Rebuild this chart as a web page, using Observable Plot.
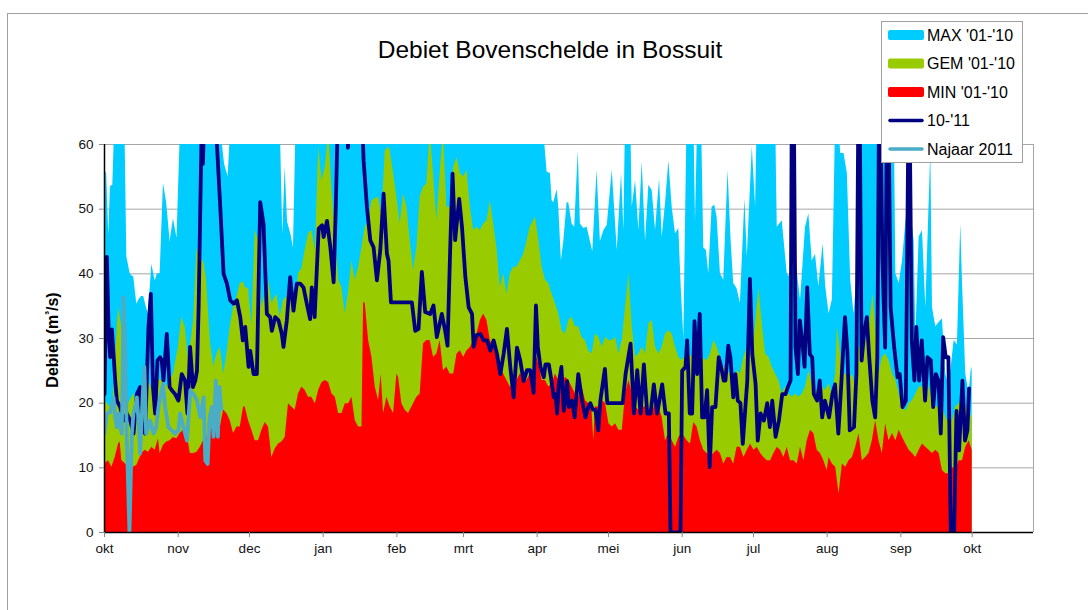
<!DOCTYPE html>
<html>
<head>
<meta charset="utf-8">
<script src="https://cdn.jsdelivr.net/npm/d3@7"></script>
<script src="https://cdn.jsdelivr.net/npm/@observablehq/plot@0.6"></script>
<style>
  html, body { margin: 0; padding: 0; background: #fff; overflow: hidden; }
  #chart { position: relative; width: 1088px; height: 610px; }
  #chart svg { display: block; }
</style>
</head>
<body>
<div id="chart"></div>
<script>
// ---- Data (day offset from 1 Oct, value in m3/s) ----
const monthLabels = ["okt","nov","dec","jan","feb","mrt","apr","mei","jun","jul","aug","sep","okt"];
const yTicks = [0, 10, 20, 30, 40, 50, 60];
const seriesNames = ["MAX '01-'10", "GEM '01-'10", "MIN '01-'10", "10-'11", "Najaar 2011"];

const maxData = [[0,56],[0.9,55.5],[1.8,46],[2.5,53.5],[3.5,53.7],[4.2,62],[4.5,65],[8.5,65],[9.4,42.6],[10.8,40],[11.5,39.7],[12.3,39.5],[13.6,35.3],[14.5,36],[15.5,36.5],[16.5,36.5],[17.5,35],[18.5,33.8],[19.9,41.5],[21.3,38.9],[22.3,40],[23.4,40],[24.8,54],[26.2,50.8],[27.6,45],[29,48.5],[30.5,45.5],[31.9,62],[32.5,65],[47.5,65],[49,62],[50.5,57],[52,55],[53,62],[53.5,65],[73.3,65],[74,62],[75,46],[76,56.5],[77,48],[78.5,46],[79.5,44],[80.5,62],[81,65],[184.5,65],[184.8,62],[186.2,55.7],[187.6,55.5],[188.3,51.3],[189,51],[190.4,53],[191.1,50.3],[192.2,42],[193.2,45],[194.6,51],[195.3,51],[196.7,47.7],[197.8,47.2],[199.3,59],[200.2,47.7],[201.6,47],[203,47.2],[204.4,45],[205.4,43.4],[207.2,56],[208.6,45],[210.1,46.7],[211.5,47.5],[213.6,56],[215.7,43.6],[217.5,55.5],[218.5,46.7],[219.2,65],[221.3,65],[222,50.3],[223.4,54.4],[224.8,46.7],[226.2,57.3],[227.6,45],[229,53.7],[230.4,52.9],[231.8,46.7],[233.5,54.7],[234.6,45.7],[236,50.8],[237.4,57.5],[238.8,50.3],[240.2,46.2],[241.6,47],[242.6,38],[243.7,30],[245.1,65],[247.9,65],[248.6,48],[249.6,65],[251.1,65],[252.1,44],[253.2,43.6],[254.2,40],[255.6,50.3],[256.7,50.6],[257.7,48.8],[259.1,40],[260.5,39],[262.3,56],[263.6,45],[264.7,38.5],[266.1,37.7],[267.5,35.4],[269.4,51.6],[270.4,42.6],[272.5,59.6],[273.9,50.3],[274.6,65],[282.3,65],[283,47.2],[285.1,48.2],[287.2,40],[289.3,39],[290.7,42.6],[292.8,35.9],[294.9,47.2],[296.3,49.3],[297.7,42],[299.1,43],[300.5,38],[302.3,44.6],[303.4,38],[304.8,33.8],[306.2,36],[307.6,65],[308.5,65],[309.7,58.6],[311.1,58.6],[312.5,55.5],[313.9,39],[315.3,33.8],[316.7,40],[317.4,65],[332.2,65],[332.9,40],[334.3,38.5],[335.7,42],[337.1,48],[338.5,52],[340.6,45],[341.3,30.2],[342.7,45.7],[344.1,46.7],[345.5,34.8],[347.6,59],[348.3,34.8],[349.7,31.8],[351.8,32.8],[352.5,33],[353.9,24.5],[355.3,22.5],[357.4,29.7],[358.8,29],[360.2,47.7],[360.9,39],[362.3,24.5],[363.7,21.4],[364.7,25.6],[365,25]];

const gemData = [[0,20.4],[2.4,19.4],[3.8,21.4],[5.9,34.8],[7.3,31.7],[8,20.4],[9.4,19.4],[10.8,20.4],[12.2,21.4],[13.6,19.9],[15,21.4],[16.4,23],[18.5,23.5],[20.6,21.4],[22,24.5],[23.4,23.5],[24.8,23.5],[26.2,22.5],[27.6,23.5],[29,24.5],[31.1,28.7],[32.5,33.3],[33.9,31.8],[35.4,26.6],[37.5,32.8],[38.9,44],[40.3,42],[41.7,42],[42.8,39.5],[44.5,29.7],[45.9,25.6],[47.3,27.6],[48.7,28.7],[50.1,24.5],[51.5,27.6],[52.9,31.8],[54.3,34.8],[55.7,36.4],[57.1,38.5],[58.5,38.7],[59.2,37.9],[60.6,37.7],[62,31.8],[63.4,46.7],[64.8,45.2],[66.2,34.8],[67.6,36.9],[69,39],[70.4,35.4],[72.5,36.9],[73.9,33.3],[75.3,35.9],[76.7,36.4],[78.8,36],[80.2,33.8],[81.6,40],[83,40.8],[84.4,43.6],[85.8,46.2],[87.2,46.7],[88.7,43.6],[90.1,59.6],[91.5,54.4],[92.9,56.5],[94.3,62],[95.7,52.9],[97.1,46.2],[98.5,39],[99.9,37.9],[101.3,33.8],[102.7,37.4],[104.1,42],[105.5,39],[106.9,41],[108.3,44],[109.7,47.2],[111.1,48.2],[112.5,51.3],[113.9,51.6],[115.3,51.9],[116.7,48.8],[118.1,59],[119.5,59.6],[120.2,59],[121.6,55.5],[123,51.9],[124.4,47.7],[125.8,52.4],[127.2,50.3],[128.6,45.2],[130,40.5],[131.4,44],[132.8,51.9],[134.2,53.4],[135.6,53.9],[137,62],[138.4,55.5],[139.8,48.2],[141.2,55.5],[142.6,62],[144,50.3],[145.4,50.3],[146.9,56.5],[148.3,58],[149.7,55.5],[151.1,55],[152.5,56],[153.9,50.3],[155.3,46.7],[156.7,47.2],[158.1,46.7],[159.5,47.7],[160.9,48.2],[162.3,51.3],[163.7,47.7],[165.1,44],[166.5,37.9],[167.9,40],[169.3,36.9],[170.7,40],[172.1,41],[173.5,41],[174.9,42],[176.3,43],[177.7,45],[179.1,47.2],[180.5,48.2],[181.3,48.8],[182.7,45.2],[184.1,41],[185.5,39],[186.9,38.5],[188.3,36.9],[189.7,35.4],[191.1,33.8],[192.5,31.2],[193.9,30.7],[195.3,32.8],[196.7,33.3],[198.1,31.8],[199.5,31.8],[200.9,30.2],[202.3,29.7],[203.7,28.1],[205.1,27.6],[206.5,30.7],[207.9,30.2],[209.4,28.7],[210.8,30.2],[212.2,29.7],[213.6,29.7],[215,30.2],[216.4,27.6],[217.8,29.7],[219.2,34.8],[220.6,40],[222,31.8],[223.4,27.1],[224.8,27.6],[226.2,28.7],[227.6,27.6],[229,32.3],[230.4,32.8],[231.8,28.7],[233.2,27.6],[234.6,28.7],[236,30.7],[237.4,31.2],[238.8,30.7],[240.2,28.7],[241.6,27.1],[243,26.6],[245.1,27.6],[247.9,27.1],[250.7,27.1],[253.5,26.6],[254.9,27.6],[256.3,29.7],[257.7,28.7],[259.1,27.1],[260.5,25.6],[263.3,24.5],[264.7,23.5],[266.1,25],[267.5,24.5],[269,27.1],[270.4,28.7],[271.8,27.6],[273.2,29.7],[275.3,37.7],[276.7,32.3],[278.1,27.6],[279.5,27.1],[280.9,25.6],[282.3,24.5],[283.7,23.5],[285.1,21.4],[286.5,22.5],[287.9,21.4],[289.3,20.9],[290.7,21.4],[292.1,20.9],[293.5,21.4],[294.9,22.5],[296.3,25],[297.7,23],[299.1,21.4],[300.5,22.5],[301.9,22.5],[303.3,22],[304.8,23],[306.2,21.4],[307.6,24.5],[308.3,31.8],[309,29.7],[310.4,24.5],[311.8,24.5],[313.2,23.5],[314.6,24.5],[316,22.5],[317.4,28.7],[318.8,28.7],[320.2,29.7],[321.6,31.2],[323.3,36.9],[324.4,31.8],[325.8,24.5],[327.2,27.1],[328.6,27.6],[330,26.6],[331.5,24.5],[332.9,23.5],[334.3,21.4],[335.7,19.4],[337.1,18.8],[338.5,19.9],[339.9,20.4],[341.3,21.4],[342.7,22.5],[344.1,22.5],[345.5,24.5],[346.9,22.5],[348.3,20.4],[349.7,19.4],[351.1,19.4],[352.5,19.4],[353.9,17.8],[355.3,16.8],[356.7,17.3],[358.1,19.4],[359.5,19.9],[360.9,20.4],[362.3,19.4],[363.7,18.8],[365,17.8]];

const minData = [[0,10.6],[1.7,11.1],[3.1,10.1],[4.5,11.6],[5.9,13.7],[6.6,14],[7.3,11.1],[8,10.9],[9.4,10.4],[12.2,10.1],[13.6,10.4],[15,11.6],[15.7,12.2],[17.1,12.7],[18.5,12.4],[19.9,13.2],[21.3,12.7],[22.7,14.5],[23.4,12.2],[24.8,13.5],[26.2,14],[27.6,14.2],[29,14.7],[30.4,14.5],[31.8,15.3],[33.2,15.8],[34.7,15.3],[36.1,12.2],[37.5,12.2],[38.9,12.4],[40.3,13.2],[41.7,14.2],[43.1,14.7],[44.5,15.8],[45.9,16.3],[47.3,15.8],[48.7,16.3],[50.1,18.9],[51.5,18.4],[52.9,17.3],[54.3,15.3],[55.7,16.3],[57.1,16.3],[58.5,19.4],[59.2,19.4],[60.6,17.3],[62,15.8],[63.4,14.2],[64.8,14.2],[66.2,15.8],[67.6,17],[69,16.3],[70.4,11.6],[71.8,12.9],[73.2,13.7],[74.6,14],[76,14.7],[77.4,19.9],[78.8,19.4],[80.2,18.9],[81.6,21.4],[83,22.5],[84.4,22],[85.8,20.9],[87.2,20.9],[88.7,19.9],[90.1,22],[91.5,23.2],[92.9,23.5],[94.3,23.2],[95.7,21.4],[97.1,20.9],[98.5,18.4],[99.9,18.4],[101.3,19.9],[102.7,19.9],[104.1,20.9],[105.5,17.3],[106.9,16.3],[108.3,16.3],[109,35.6],[109.7,35.4],[111.1,29.7],[112.5,27.1],[113.9,22.5],[115.3,20.4],[116.4,24.5],[117.4,18.4],[118.8,20.9],[120.2,19.4],[121.6,18.4],[123,24.5],[123.7,24],[125.1,19.9],[126.5,18.9],[127.9,18.4],[130,19.9],[131.4,20.9],[132.8,21.4],[134.2,29.2],[135.6,29.7],[137,29.7],[138.4,27.1],[139.8,27.6],[141.2,29.7],[142.6,25],[144,25.6],[145.4,24.5],[146.9,24.5],[148.3,27.6],[149.7,28.1],[151.1,27.1],[152.5,28.1],[153.9,28.6],[155.3,29.7],[156.7,30.7],[158.1,32.8],[159.5,33.8],[160.9,32.8],[162.3,29.7],[163.7,28.6],[165.1,27.1],[166.5,25.6],[167.9,24.5],[169.3,23.5],[170.7,22.5],[172.1,22.5],[173.5,23.5],[174.9,24.5],[176.3,24],[177.7,23.5],[179.1,24.5],[180.5,24.5],[181.9,27.1],[183.3,25],[184.1,23.5],[185.5,23.5],[186.9,22.5],[188.3,23],[189.7,24.5],[191.1,23.5],[192.5,22.5],[193.9,24],[195.3,23.5],[196.7,22.5],[198.1,21.4],[199.5,20.9],[200.9,22.5],[202.3,20.4],[203.7,19.9],[205.1,18.8],[205.8,14.2],[206.5,19.4],[207.9,19.4],[209.4,20.4],[210.8,19.9],[212.2,16.8],[213.6,16.3],[215,16.8],[216.4,15.8],[217.8,15.8],[219.2,21.4],[220.6,23.5],[222,21.4],[223.4,19.4],[224.8,18.9],[226.2,19.4],[227.6,19.4],[229,18.4],[230.4,18.4],[231.8,19.9],[233.2,19.4],[234.6,17.8],[236,14.2],[237.4,15.3],[238.8,14.2],[240.2,13.2],[241.6,14.7],[243,15.3],[245.1,14.2],[246.5,13.7],[247.9,17],[249.3,16.3],[250.7,14.2],[252.1,12.7],[253.5,12.2],[254.9,11.6],[256.3,12.2],[257.7,12.7],[259.1,12.2],[260.5,10.6],[261.9,11.6],[263.3,11.6],[264.7,10.6],[266.1,13.2],[267.5,13.2],[269,11.6],[270.4,12.7],[271.8,13.7],[273.2,12.7],[274.6,13.2],[276,12.2],[277.4,11.6],[278.8,11.1],[280.2,11.1],[281.6,12.2],[283,13.2],[284.4,12.7],[285.8,11.6],[287.2,13.2],[288.6,11.1],[290,11.1],[291.4,10.6],[292.8,13.2],[294.2,11.1],[295.6,14.2],[297,15.8],[298.4,15.3],[299.8,12.7],[301.2,12.2],[302.6,11.1],[304,9.6],[304.8,11.6],[306.2,10.6],[307.6,10.1],[309,6],[310.4,10.6],[311.8,10.1],[313.2,11.1],[314.6,11.6],[316,13.2],[317.4,15.3],[318.8,11.1],[320.2,11.6],[321.6,12.2],[323,14.2],[324.4,17.3],[325.8,14.2],[327.2,12.2],[328.6,16.8],[330,14.2],[331.5,15.3],[332.9,14.2],[334.3,15.8],[335.7,14.7],[337.1,13.7],[338.5,12.7],[339.9,12.2],[341.3,11.6],[342.7,12.7],[344.1,13.7],[345.5,13.2],[346.9,12.7],[348.3,12.2],[349.7,12.7],[351.1,12.2],[352.5,9.6],[353.9,9.1],[355.3,9.1],[356.7,10.1],[358.1,9.6],[359.5,11.1],[360.9,11.1],[362.3,13.2],[363.7,14.2],[365,12.7]];

const flow1011 = [[0,21.4],[1,42.6],[1.7,31.8],[2.4,27.1],[3.1,31.4],[3.8,27.6],[4.5,23.5],[5.2,20.4],[6.6,19.4],[8,17.3],[9.4,18.4],[10.8,17.3],[12.2,15.3],[13.6,21.4],[15,22.5],[15.7,16.3],[17.1,15.3],[18.5,31.8],[19.5,36.9],[20.4,22.5],[21.3,18.4],[22.3,26.6],[23.4,27.1],[24.1,26.6],[24.8,23.5],[26.2,30.7],[27.4,22.5],[28.3,22],[29.7,21.4],[31.1,20.4],[32.5,24.5],[33.9,23.5],[34.9,18.4],[36,28.7],[37.2,22.5],[38.2,23.5],[38.9,25],[39.6,34.8],[40.3,50.3],[41,65],[41.4,57],[42,65],[46.6,65],[47.3,60],[48.7,50.3],[50.1,40],[51.5,38.5],[52.9,35.9],[54.3,35.4],[55.7,35.9],[57.1,33.3],[58.2,29.7],[59.2,31.8],[60.6,25.6],[61.3,28.1],[62.7,24.5],[64.1,24.5],[65.5,51.1],[66.9,47.7],[68.3,33.8],[69.7,33.3],[70.4,31.2],[71.8,33.3],[73.2,32.8],[74.6,30.7],[75.3,28.7],[76.7,32.8],[78.1,39.5],[79.5,34.3],[80.9,38.5],[82.3,38.5],[83.7,37.9],[85.1,35.4],[86.5,33],[87.2,37.9],[88.4,33.3],[90.1,47],[91.5,47.5],[92.2,45.7],[93.6,48.2],[95,44.1],[96.4,38.7],[97.3,50.3],[98.2,65],[102,65],[102.4,59.5],[103,65],[108.3,65],[109,57.5],[110.4,50.3],[111.8,45.2],[113.2,44.1],[114.6,39],[116,43.6],[117.4,52.4],[118.8,43.1],[119.5,42],[120.5,35.6],[129.3,35.6],[130.7,31.2],[132.1,31.5],[133.5,40.3],[134.9,34.1],[137,33.8],[138.4,35.1],[139.8,30.2],[141.9,33.8],[143.3,31.2],[144.3,28.9],[145.4,43.6],[146.4,55.5],[147.5,45.2],[149.2,51.6],[150.4,47.2],[151.8,39.5],[153.2,34.8],[154.6,33.8],[155.3,28.7],[156.4,30.5],[158.1,30.7],[159.5,29.7],[160.9,29.7],[162.3,28.1],[163.7,29.7],[165.1,27.6],[166.5,24.5],[167.9,27.6],[169.3,31.5],[170.7,25.6],[172.1,20.9],[173.5,28.6],[174.9,26.6],[176.3,23.4],[177.7,25.1],[179.1,25.1],[180.5,21.6],[181.5,35.1],[182.3,28.7],[183.4,25.6],[184.8,24],[185.5,26],[186.9,26],[187.6,24.5],[189,20.9],[189.7,21.4],[190.4,18.4],[191.1,23],[192.2,25.6],[193.2,18.8],[194.6,23.4],[195.3,19.4],[196.7,20.4],[197.8,17.8],[199.3,24.5],[200.9,20.4],[202.3,17.8],[203.5,19.4],[204.4,20],[205.4,19],[206.5,19],[207.7,15.8],[208.6,20.4],[210.5,25.3],[211.5,20],[218,20],[219.2,24.5],[221.3,29.2],[222.7,18.4],[224.1,25.1],[225.5,18.4],[226.9,26],[228.3,18.4],[229.7,18.4],[231.1,22.9],[232.5,18.4],[234.6,22.9],[236,18.4],[237.4,18.4],[238.1,0],[242.3,0],[243,25],[244.4,25.6],[245.1,29.7],[246.2,18.4],[247.2,18.4],[248.2,32.7],[249.3,24.5],[250.4,33.8],[251.4,17.8],[252.4,17.8],[253.5,22],[254.6,10.1],[255.6,19.4],[257,19.4],[258.4,27.1],[259.4,25.6],[260.5,23.5],[261.2,23.5],[262.4,28.9],[263.3,27.1],[264.5,20.9],[265.4,24.5],[266.4,20.4],[267.5,20],[268.5,13.7],[269.6,19.4],[270.4,23.5],[271.5,39.2],[272.5,27.6],[273.9,22.9],[274.8,14.2],[276,18.4],[277.4,17.3],[278.8,20],[279.9,16.3],[280.9,20.4],[282.3,14.8],[283.7,17.3],[285.1,21.4],[286.5,21.4],[287.5,22.5],[288.6,23.5],[289.1,65],[290,65],[290.7,28.6],[291.7,24.5],[292.5,32.8],[293.5,29.7],[294.5,25.6],[295.6,37.9],[296.7,27.6],[297.7,27.1],[298.4,21.4],[299.8,20.4],[300.9,23.5],[301.9,17.8],[303,20.4],[304.8,17.8],[306.2,21.4],[307.3,22.9],[308.7,15.3],[309.7,21.4],[311.5,33.3],[312.5,28.1],[313.5,15.8],[315.3,16.3],[316.3,24.5],[317.1,65],[317.7,65],[318.5,26.6],[319.5,30.7],[320.7,33.3],[321.6,27.6],[323,20.4],[324.2,17.8],[325.1,27.1],[325.8,65],[326.5,65],[327.2,42.6],[328.4,28.6],[329.1,65],[329.8,65],[330.7,34.8],[332.2,28.6],[333.6,24],[334.5,24.5],[335.7,19.4],[337.1,20.4],[338.2,65],[338.7,65],[339.6,29.7],[340.7,23.5],[341.5,31.8],[342.7,23.5],[343.8,29.7],[345.2,20.4],[346.2,27.1],[347.6,26.6],[348.6,19.4],[349.7,24.5],[350.8,23.5],[351.8,15.3],[352.8,30.2],[353.9,27.1],[355,27.1],[356,0],[357.4,0],[358.4,18.8],[359.5,12.7],[360.9,23.5],[362,14.2],[363,15.8],[363.7,22.3]];

const najaar2011 = [[0,15.3],[1,18.4],[2.4,18.6],[3.8,20.9],[4.5,17.8],[5.2,16.3],[5.9,18.4],[6.6,16.3],[7.3,15.3],[8,36.4],[8.7,29.7],[9.4,14.2],[10.5,0],[11.5,15.3],[12.2,18.4],[12.9,19.4],[13.6,20.9],[14.3,17.3],[15,12.2],[16.1,21.4],[16.8,25.6],[17.5,15.3],[18.5,16.3],[19.2,17.3],[20.6,15.3],[21.8,16.3],[22.7,19.4],[23.7,21.4],[24.6,23],[25.5,19.4],[26.9,16.3],[28.3,15.8],[29.7,15.3],[31.1,15.8],[31.8,18.4],[33.2,16.3],[34.7,14.2],[36.1,22],[37.5,21.4],[38.9,20.4],[40.3,17.8],[41.7,20.9],[42.4,11.1],[43.4,10.6],[44.2,17.8],[45.2,19.4],[45.9,14.8],[46.8,23.5],[47.7,14.8],[48.4,22.5],[49.1,19]];

// ---- Build rows ----
const t0 = Date.UTC(2010, 9, 1);
const toDate = d => new Date(t0 + d * 864e5);
const rows = arr => arr.map(([d, v]) => ({date: toDate(d), v}));
const monthDates = monthLabels.map((_, i) => new Date(Date.UTC(2010, 9 + i, 1)));
const labelByTime = new Map(monthDates.map((d, i) => [+d, monthLabels[i]]));
const xEnd = toDate(390.8);

const colors = ["#00CCFF", "#99CC00", "#FF0000", "#000080", "#4BACC6"];
const font = "'Liberation Sans', Arial, Helvetica, sans-serif";

const chart = Plot.plot({
  width: 1088,
  height: 610,
  marginLeft: 104,
  marginRight: 55,
  marginTop: 144,
  marginBottom: 78,
  style: {fontFamily: font, background: "transparent", color: "#000"},
  x: {type: "utc", domain: [toDate(0), xEnd]},
  y: {domain: [0, 60]},
  marks: [
    Plot.ruleY(yTicks.slice(1), {stroke: "#a6a6a6", strokeWidth: 1}),
    Plot.ruleX([xEnd], {stroke: "#a6a6a6", strokeWidth: 1}),
    Plot.areaY(rows(maxData), {x: "date", y: "v", fill: colors[0], clip: true}),
    Plot.areaY(rows(gemData), {x: "date", y: "v", fill: colors[1], clip: true}),
    Plot.areaY(rows(minData), {x: "date", y: "v", fill: colors[2], clip: true}),
    Plot.line(rows(flow1011), {x: "date", y: "v", stroke: colors[3], strokeWidth: 3.8, strokeLinejoin: "round", strokeLinecap: "round", clip: true}),
    Plot.line(rows(najaar2011), {x: "date", y: "v", stroke: colors[4], strokeWidth: 3.8, strokeLinejoin: "round", strokeLinecap: "round", clip: true}),
    Plot.ruleY([0], {stroke: "#000", strokeWidth: 1.5}),
    Plot.ruleX([toDate(0)], {stroke: "#000", strokeWidth: 1.5}),
    Plot.axisX({ticks: monthDates, tickFormat: d => labelByTime.get(+d), tickSize: 5, tickPadding: 6, fontSize: 13.5, stroke: "#888", label: null, fill: "#111"}),
    Plot.axisY({ticks: yTicks, tickSize: 5, tickPadding: 6, fontSize: 13.5, stroke: "#888", label: null, fill: "#111"})
  ]
});

document.getElementById("chart").appendChild(chart);

// ---- Decorations: border, title, axis title, legend ----
const svg = d3.select(chart);
svg.insert("rect", ":first-child")
  .attr("x", 7.5).attr("y", 13.5).attr("width", 1100).attr("height", 620)
  .attr("fill", "none").attr("stroke", "#a0a0a0");

svg.append("text")
  .attr("x", 550).attr("y", 58)
  .attr("text-anchor", "middle")
  .attr("font-family", font).attr("font-size", 24.5).attr("fill", "#000")
  .text("Debiet Bovenschelde in Bossuit");

const yt = svg.append("text")
  .attr("transform", "translate(58,340) rotate(-90)")
  .attr("text-anchor", "middle")
  .attr("font-family", font).attr("font-size", 16).attr("font-weight", "bold").attr("fill", "#000");
yt.append("tspan").text("Debiet (m");
yt.append("tspan").text("³").attr("font-size", 11).attr("dy", -5);
yt.append("tspan").text("/s)").attr("dy", 5);

const lg = svg.append("g");
lg.append("rect").attr("x", 881.5).attr("y", 21.5).attr("width", 141).attr("height", 141)
  .attr("fill", "#fff").attr("stroke", "#a0a0a0");
const rowY = [35, 63.5, 92, 120.5, 149];
seriesNames.forEach((name, i) => {
  const cy = rowY[i];
  if (i < 3) {
    lg.append("rect").attr("x", 888).attr("y", cy - 5).attr("width", 36).attr("height", 10)
      .attr("rx", 2).attr("fill", colors[i]);
  } else {
    lg.append("line").attr("x1", 890).attr("x2", 922).attr("y1", cy).attr("y2", cy)
      .attr("stroke", colors[i]).attr("stroke-width", 3.5).attr("stroke-linecap", "round");
  }
  lg.append("text").attr("x", 927).attr("y", cy + 5.6)
    .attr("text-anchor", "start")
    .attr("font-family", font).attr("font-size", 16).attr("fill", "#000")
    .text(name);
});
</script>
</body>
</html>
